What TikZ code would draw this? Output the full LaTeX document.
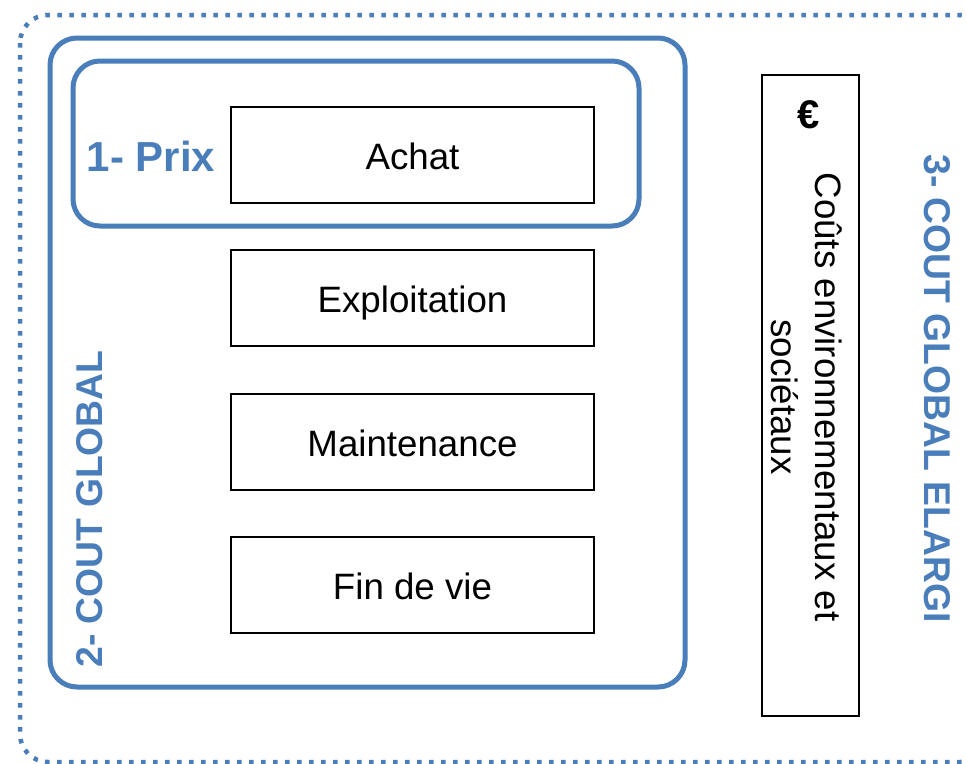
\documentclass[tikz,border=0pt]{standalone}
\usepackage{fontspec}
\setmainfont{Liberation Sans}
\definecolor{cblue}{HTML}{4A7EBB}
\begin{document}
\begin{tikzpicture}[x=1pt,y=-1pt,
  bluebox/.style={draw=cblue, line width=5pt, rounded corners=27pt, inner sep=0pt},
  blackbox/.style={draw=black, line width=2pt, inner sep=0pt, minimum width=363pt, minimum height=96pt,
     text height=29pt, text depth=0pt, font=\fontsize{36.7}{44}\selectfont},
  bluelabel/.style={text=cblue, font=\fontsize{37.3}{44}\selectfont\bfseries, inner sep=0pt},
  plainlabel/.style={text=black, font=\fontsize{36.7}{44}\selectfont, inner sep=0pt, align=center}]
\useasboundingbox (0,0) rectangle (966,763);
\fill[white] (0,0) rectangle (966,763);
% outer dotted frame
\draw[cblue, line width=4.5pt, dash pattern=on 4.5pt off 7.5pt, rounded corners=28pt]
  (20,15) rectangle (988,762);
% 2- cout global frame
\node[bluebox, minimum width=635pt, minimum height=649pt] (global) at (367.5,362.5) {};
% 1- prix frame
\node[bluebox, minimum width=566pt, minimum height=165pt] (prix) at (356,143.5) {};
% boxes
\node[blackbox] (achat) at (412.5,154.5) {Achat};
\node[blackbox] (exploit) at (412.5,297.5) {Exploitation};
\node[blackbox] (maint) at (412.5,441.5) {Maintenance};
\node[blackbox] (fin) at (412.5,585) {Fin de vie};
% right box
\node[draw=black, line width=2pt, minimum width=97pt, minimum height=641pt, inner sep=0pt] (env) at (810.5,395.5) {};
\node[text=black, font=\fontsize{40}{44}\selectfont\bfseries, inner sep=0pt] (euro) at (809,115) {€};
\node[plainlabel, rotate=-90] (envtext) at (807,397) {Coûts environnementaux et\\sociétaux};
% labels
\node[bluelabel, font=\fontsize{42}{48}\selectfont\bfseries] (prixlabel) at (151,156) {1- Prix};
\node[bluelabel, rotate=90] (globallabel) at (90,509) {2- COUT GLOBAL};
\node[bluelabel, rotate=-90] (elargilabel) at (937,388.5) {3- COUT GLOBAL ELARGI};
\end{tikzpicture}
\end{document}
